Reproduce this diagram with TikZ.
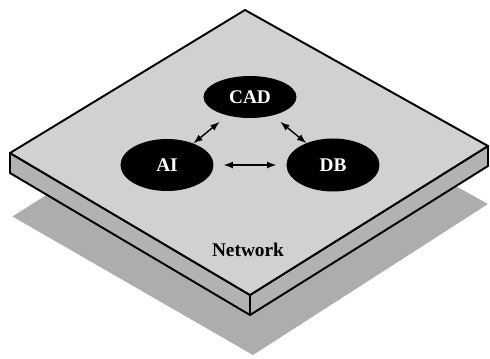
\documentclass[tikz,border=0pt]{standalone}
\usepackage{fontspec}
\setmainfont{Liberation Serif}
\usetikzlibrary{shapes.geometric}
\tikzset{
	agent/.style={ellipse, fill=black, text=white, font=\fontsize{11}{13}\selectfont\bfseries, minimum width=1.86cm, minimum height=1.0cm, inner sep=0pt},
	link/.style={<->, >=latex, line width=0.8pt, shorten <=0.2cm}
}
\begin{document}
\begin{tikzpicture}
	\useasboundingbox (0,0) rectangle (9.8,7.18);
	% shadow under the board
	\fill[black!32] (0.25,2.85) -- (5.06,0.08) -- (9.76,3.1) -- (4.9,5.8) -- cycle;
	% board: side faces and top face
	\filldraw[fill=black!30, line width=1.1pt, line join=round] (0.2,4.12) -- (5.0,1.28) -- (9.76,4.26) -- (9.76,3.86) -- (5.0,0.88) -- (0.2,3.72) -- cycle;
	\draw[line width=1.1pt] (5.0,1.28) -- (5.0,0.88);
	\filldraw[fill=black!18, line width=1.1pt, line join=round] (4.9,6.98) -- (0.2,4.12) -- (5.0,1.28) -- (9.76,4.26) -- cycle;
	% agents on the network
	\node[agent, minimum height=0.84cm] (cad) at (5.0,5.24) {CAD};
	\node[agent, minimum height=1.04cm] (ai) at (3.34,3.88) {AI};
	\node[agent, minimum height=1.06cm] (db) at (6.66,3.88) {DB};
	\draw[link] (cad) -- (ai);
	\draw[link] (cad) -- (db);
	\draw[link, shorten >=0.2cm] (ai) -- (db);
	\node[font=\fontsize{11}{13}\selectfont\bfseries] (net) at (4.96,2.18) {Network};
\end{tikzpicture}
\end{document}
